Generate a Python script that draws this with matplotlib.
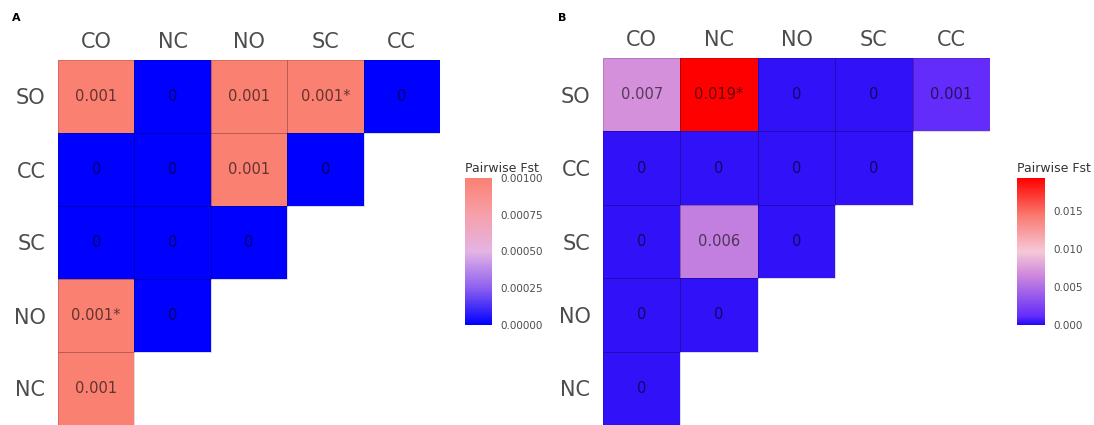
import numpy as np
import matplotlib
matplotlib.use('agg')
import matplotlib.pyplot as plt
from matplotlib.colors import LinearSegmentedColormap
from matplotlib.patches import Rectangle

# populations
cols = ['CO', 'NC', 'NO', 'SC', 'CC']
rows = ['SO', 'CC', 'SC', 'NO', 'NC']

nan = np.nan
# panel A pairwise Fst (upper triangle as drawn), stars = significant
fst_a = [
    [0.001, 0.0, 0.001, 0.001, 0.0],
    [0.0, 0.0, 0.001, 0.0, nan],
    [0.0, 0.0, 0.0, nan, nan],
    [0.001, 0.0, nan, nan, nan],
    [0.001, nan, nan, nan, nan],
]
star_a = [(0, 3), (3, 0)]

# panel B
fst_b = [
    [0.007, 0.0194, 0.0003, 0.0003, 0.0012],
    [0.0003, 0.0003, 0.0003, 0.0003, nan],
    [0.0003, 0.006, 0.0003, nan, nan],
    [0.0003, 0.0003, nan, nan, nan],
    [0.0003, nan, nan, nan, nan],
]
star_b = [(0, 1)]

ticks_a = [0.0, 0.00025, 0.0005, 0.00075, 0.001]
ticks_b = [0.0, 0.005, 0.010, 0.015]


def rgb(*c):
    return tuple(v / 255 for v in c)


cmap_a = LinearSegmentedColormap.from_list('fst_a', [
    (0.0, rgb(0, 0, 255)),
    (0.25, rgb(140, 95, 240)),
    (0.5, rgb(228, 180, 228)),
    (0.75, rgb(246, 160, 170)),
    (1.0, rgb(250, 128, 114)),
])
cmap_b = LinearSegmentedColormap.from_list('fst_b', [
    (0.0, rgb(35, 10, 248)),
    (0.06, rgb(100, 45, 250)),
    (0.35, rgb(210, 140, 220)),
    (0.5, rgb(245, 200, 215)),
    (0.75, rgb(250, 120, 110)),
    (1.0, rgb(255, 0, 0)),
])


def label(v, starred):
    s = f'{round(v, 3):g}'
    return s + ('*' if starred else '')


def heat(ax, cax, data, stars, cmap, ticks, fmt):
    arr = np.array(data)
    m = np.ma.masked_invalid(arr)
    mesh = ax.pcolormesh(np.arange(len(cols) + 1), np.arange(len(rows) + 1), m,
                         cmap=cmap, vmin=0, vmax=np.nanmax(arr), edgecolor='none')
    ax.set_xlim(0, len(cols))
    ax.set_ylim(len(rows), 0)
    for i in range(len(rows)):
        for j in range(len(cols)):
            v = data[i][j]
            if np.isnan(v):
                continue
            ax.add_patch(Rectangle((j, i), 1, 1, fill=False, edgecolor=(0, 0, 0, 0.2), linewidth=0.5))
            ax.text(j + 0.5, i + 0.5, label(v, (i, j) in stars), ha='center', va='center',
                    fontsize=10.5, color='black', alpha=0.6)
    ax.xaxis.tick_top()
    ax.set_xticks(np.arange(len(cols)) + 0.5)
    ax.set_xticklabels(cols)
    ax.set_yticks(np.arange(len(rows)) + 0.5)
    ax.set_yticklabels(rows)
    ax.tick_params(length=0, labelsize=15, labelcolor='#4d4d4d')
    ax.tick_params(axis='x', pad=6)
    ax.tick_params(axis='y', pad=9)
    for sp in ax.spines.values():
        sp.set_visible(False)

    cb = plt.colorbar(mesh, cax=cax, ticks=ticks)
    cb.outline.set_visible(False)
    cb.ax.set_yticklabels([fmt.format(t) for t in ticks])
    cb.ax.tick_params(length=4, width=0.6, color='white', labelsize=7.5, labelcolor='#4d4d4d', pad=2)
    cax.text(0, 1.02, 'Pairwise Fst', transform=cax.transAxes, fontsize=9,
             color='#333333', ha='left', va='bottom')


fig = plt.figure(figsize=(10.94, 4.25), dpi=100)
W, H = 1094, 425

ax_a = fig.add_axes([58 / W, 0, 382 / W, 365 / H])
cax_a = fig.add_axes([465 / W, 1 - 325 / H, 27 / W, 147 / H])
ax_b = fig.add_axes([603 / W, 0, 387 / W, 367 / H])
cax_b = fig.add_axes([1017 / W, 1 - 325 / H, 28 / W, 147 / H])

heat(ax_a, cax_a, fst_a, star_a, cmap_a, ticks_a, '{:.5f}')
heat(ax_b, cax_b, fst_b, star_b, cmap_b, ticks_b, '{:.3f}')

fig.text(12 / W, 1 - 18 / H, 'A', fontsize=8, fontweight='bold', va='center')
fig.text(558 / W, 1 - 18 / H, 'B', fontsize=8, fontweight='bold', va='center')

fig.savefig('out.png', dpi=100)
